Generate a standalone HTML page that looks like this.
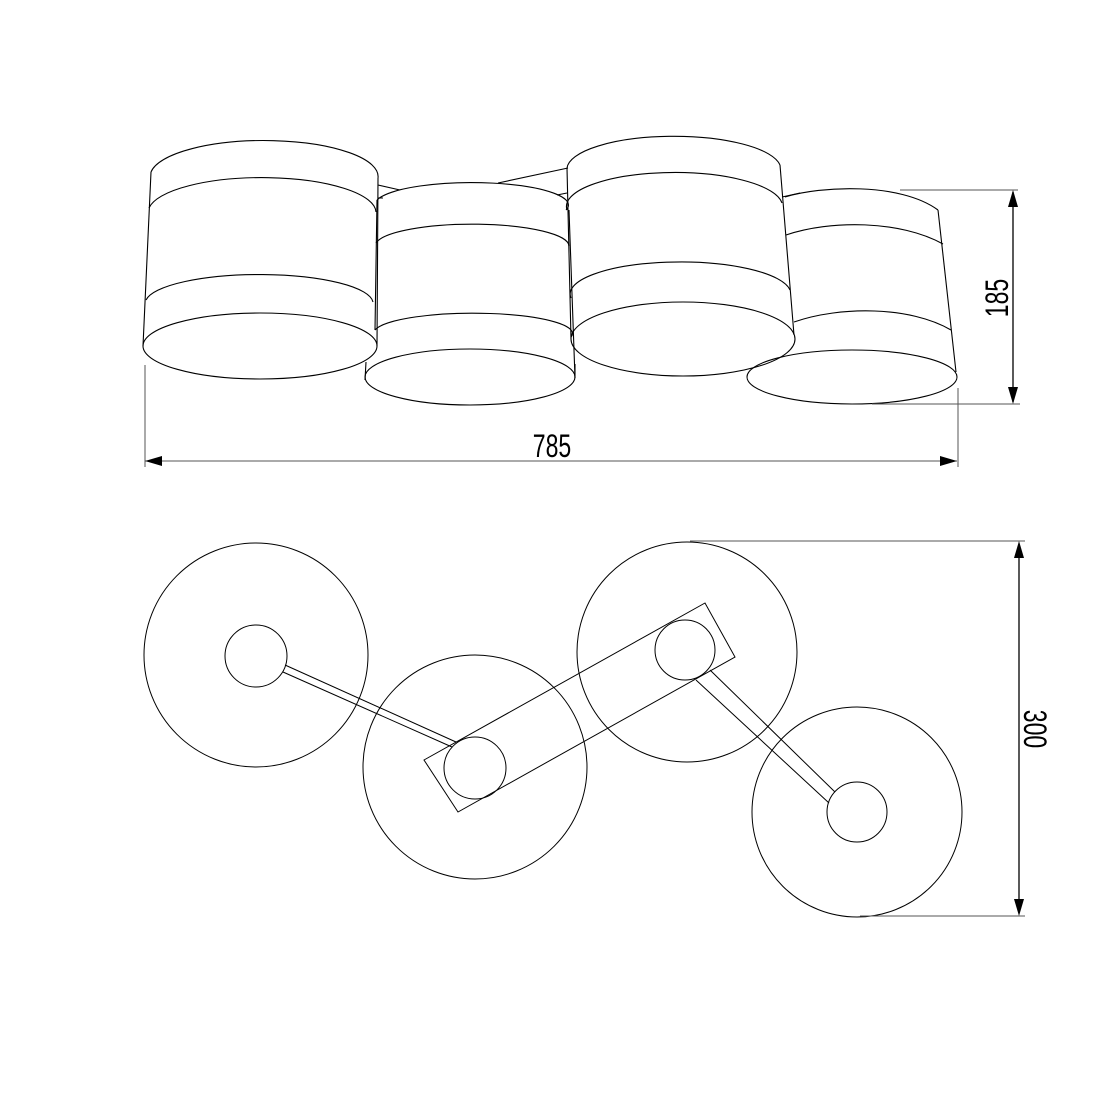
<!DOCTYPE html>
<html><head><style>html,body{margin:0;padding:0;background:#fff}svg{display:block}</style></head>
<body>
<svg width="1100" height="1100" viewBox="0 0 1100 1100" xmlns="http://www.w3.org/2000/svg">
<g fill="none" stroke="#000" stroke-width="1.1">
<!-- shade 1 -->
<path d="M151,172 A114,36 0 0 1 378,178"/>
<path d="M149,208 A114,35 0 0 1 376,212"/>
<path d="M146,300 A114,29 0 0 1 373,302"/>
<ellipse cx="260" cy="346" rx="117" ry="33"/>
<path d="M151,172 L143,346 M378,178 L377,346"/>
<!-- shade 2 -->
<path d="M377,200 A95,22 0 0 1 566,210"/>
<path d="M376,243 A97,22 0 0 1 569,246"/>
<path d="M375,330 A98,20 0 0 1 571,337"/>
<ellipse cx="470" cy="377" rx="105" ry="28"/>
<path d="M377,200 L375,330 M366,362 L365,380 M569,210 L575,378"/>
<path d="M378,185 L400,190 M378,198 L383,198"/>
<path d="M498,183 L568,168 M557,195 L567,193"/>
<!-- shade 3 -->
<path d="M567,168 A107,33 0 0 1 780,165"/>
<path d="M567,210 A108,34 0 0 1 782,203"/>
<path d="M571,298 A110,32 0 0 1 790,290"/>
<ellipse cx="683" cy="339" rx="112" ry="37"/>
<path d="M567,168 L571,339 M780,165 L794,335 M575,364 L575,378"/>
<path d="M782,197 L800,193"/>
<!-- shade 4 -->
<path d="M785,197 C820,186 900,182 938,210"/>
<path d="M786,235 C830,220 900,220 943,244"/>
<path d="M794,322 C840,306 910,306 951,330"/>
<ellipse cx="852" cy="377" rx="105" ry="27"/>
<path d="M938,210 L956,372"/>
</g>
<!-- dimensions top -->
<g stroke="#555" stroke-width="1" fill="none">
<path d="M145,365 V467 M958,388 V467 M145,461 H957"/>
<path d="M900,190 H1018 M872,404 H1020"/>
</g>
<path d="M1013,192 V402" stroke="#000" stroke-width="1.3"/>
<polygon points="145,461 162,456 162,466" fill="#000"/>
<polygon points="957,461 940,456 940,466" fill="#000"/>
<polygon points="1013,190 1008,207 1018,207" fill="#000"/>
<polygon points="1013,404 1008,387 1018,387" fill="#000"/>
<text x="552" y="457" font-family="Liberation Sans, sans-serif" font-size="32" text-anchor="middle" transform="translate(552 0) scale(0.72 1) translate(-552 0)" fill="#000">785</text>
<text x="0" y="0" font-family="Liberation Sans, sans-serif" font-size="32" text-anchor="middle" transform="translate(1008 298) rotate(-90) scale(0.72 1)" fill="#000">185</text>
<!-- bottom plan -->
<g fill="none" stroke="#000" stroke-width="1">
<circle cx="256" cy="655" r="112"/>
<circle cx="256" cy="656" r="31"/>
<circle cx="475" cy="767" r="112"/>
<circle cx="475" cy="768" r="31"/>
<circle cx="687" cy="652" r="110"/>
<circle cx="685" cy="650" r="30"/>
<circle cx="857" cy="812" r="105"/>
<circle cx="857" cy="812" r="30"/>
<polygon points="424,760 705,603 735,657 458,812"/>
<path d="M285,665 L456,742 M283,672 L452,747"/>
<path d="M710,670 L835,792 M696,680 L829,803"/>
</g>
<g stroke="#555" stroke-width="1" fill="none">
<path d="M690,541 H1025 M860,916 H1025"/>
</g>
<path d="M1019,544 V913" stroke="#000" stroke-width="1.3"/>
<polygon points="1019,541 1014,558 1024,558" fill="#000"/>
<polygon points="1019,916 1014,899 1024,899" fill="#000"/>
<text x="0" y="0" font-family="Liberation Sans, sans-serif" font-size="32" text-anchor="middle" transform="translate(1024 729) rotate(90) scale(0.72 1)" fill="#000">300</text>
</svg>
</body></html>
